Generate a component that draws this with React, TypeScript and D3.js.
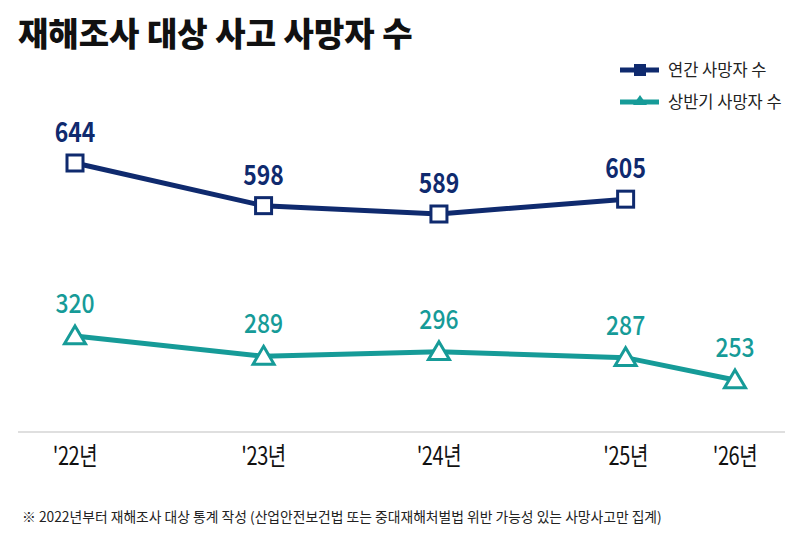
import React, { useEffect, useRef } from 'react';
import * as d3 from 'd3';

// periods on the x axis (spacing read off the picture, not even)
const periods = ["'22년", "'23년", "'24년", "'25년", "'26년"];
const periodPos = [2022, 2023, 2023.93, 2024.92, 2025.5];

const annualDeaths = [644, 598, 589, 605];
const halfDeaths = [320, 289, 296, 287, 253];

const title = '재해조사 대상 사고 사망자 수';
const legendLabels = ['연간 사망자 수', '상반기 사망자 수'];
const footnote = '※ 2022년부터 재해조사 대상 통계 작성 (산업안전보건법 또는 중대재해처벌법 위반 가능성 있는 사망사고만 집계)';

const NAVY = '#0f2a6e';
const TEAL = '#169b98';
const FONT = "'Noto Sans CJK KR', 'Noto Sans', sans-serif";

const App: React.FC = () => {
  const svgRef = useRef<SVGSVGElement>(null);

  useEffect(() => {
    const svg = d3.select(svgRef.current);
    svg.selectAll('*').remove();

    const width = 800;
    const height = 551;

    const x = d3.scaleLinear().domain([2022, 2025.5]).range([75, 735]);
    const yAnnual = d3.scaleLinear().domain([644, 589]).range([163, 214]);
    const yHalf = d3.scaleLinear().domain([320, 253]).range([336, 380]);

    svg.append('rect').attr('width', width).attr('height', height).attr('fill', '#fff');

    // Title
    svg.append('text')
      .attr('x', 18).attr('y', 46)
      .attr('font-family', FONT).attr('font-weight', 900)
      .attr('font-size', 33).attr('fill', '#111')
      .text(title);

    // Baseline
    svg.append('line')
      .attr('x1', 18).attr('x2', 785)
      .attr('y1', 432).attr('y2', 432)
      .attr('stroke', '#d4d4d4').attr('stroke-width', 1.5);

    // X labels (condensed look)
    svg.append('g')
      .selectAll('text')
      .data(periods)
      .join('text')
      .attr('transform', (_, i) => `translate(${x(periodPos[i])},465) scale(0.8,1)`)
      .attr('text-anchor', 'middle')
      .attr('font-family', FONT)
      .attr('font-size', 25).attr('font-weight', 400)
      .attr('letter-spacing', -0.5)
      .attr('fill', '#111')
      .text(d => d);

    const triangle = (cx: number, cy: number, s = 10) =>
      `M${cx},${cy - s} L${cx + s * 1.05},${cy + s * 0.78} L${cx - s * 1.05},${cy + s * 0.78} Z`;

    // Annual series
    const lineA = d3.line<number>()
      .x((_, i) => x(periodPos[i]))
      .y(d => yAnnual(d));
    svg.append('path')
      .datum(annualDeaths)
      .attr('d', lineA)
      .attr('fill', 'none')
      .attr('stroke', NAVY)
      .attr('stroke-width', 5);

    svg.append('g')
      .selectAll('rect')
      .data(annualDeaths)
      .join('rect')
      .attr('x', (_, i) => x(periodPos[i]) - 8)
      .attr('y', d => yAnnual(d) - 8)
      .attr('width', 16).attr('height', 16)
      .attr('fill', '#fff').attr('stroke', NAVY).attr('stroke-width', 3);

    svg.append('g')
      .selectAll('text')
      .data(annualDeaths)
      .join('text')
      .attr('transform', (d, i) => `translate(${x(periodPos[i])},${yAnnual(d) - 21}) scale(0.85,1)`)
      .attr('text-anchor', 'middle')
      .attr('font-family', FONT).attr('font-weight', 700)
      .attr('font-size', 27).attr('fill', NAVY)
      .text(d => d);

    // Half-year series
    const lineH = d3.line<number>()
      .x((_, i) => x(periodPos[i]))
      .y(d => yHalf(d));
    svg.append('path')
      .datum(halfDeaths)
      .attr('d', lineH)
      .attr('fill', 'none')
      .attr('stroke', TEAL)
      .attr('stroke-width', 5);

    svg.append('g')
      .selectAll('path')
      .data(halfDeaths)
      .join('path')
      .attr('d', (d, i) => triangle(x(periodPos[i]), yHalf(d)))
      .attr('fill', '#fff').attr('stroke', TEAL).attr('stroke-width', 3)
      .attr('stroke-linejoin', 'miter');

    svg.append('g')
      .selectAll('text')
      .data(halfDeaths)
      .join('text')
      .attr('transform', (d, i) => `translate(${x(periodPos[i])},${yHalf(d) - 23}) scale(0.85,1)`)
      .attr('text-anchor', 'middle')
      .attr('font-family', FONT).attr('font-weight', 500)
      .attr('font-size', 27).attr('fill', TEAL)
      .text(d => d);

    // Legend
    const legend = svg.append('g');
    legendLabels.forEach((label, i) => {
      const ly = 70 + i * 32;
      const color = i === 0 ? NAVY : TEAL;
      legend.append('line')
        .attr('x1', 620).attr('x2', 659).attr('y1', ly).attr('y2', ly)
        .attr('stroke', color).attr('stroke-width', 5);
      if (i === 0) {
        legend.append('rect')
          .attr('x', 634).attr('y', ly - 6).attr('width', 12).attr('height', 12)
          .attr('fill', color);
      } else {
        legend.append('path')
          .attr('d', `M640,${ly - 7} L647,${ly + 3} L633,${ly + 3} Z`)
          .attr('fill', color);
      }
      legend.append('text')
        .attr('x', 668).attr('y', ly + 6)
        .attr('font-family', FONT).attr('font-size', 16.5)
        .attr('fill', '#222')
        .text(label);
    });

    // Footnote
    svg.append('text')
      .attr('x', 22).attr('y', 522)
      .attr('font-family', FONT).attr('font-size', 13.8)
      .attr('fill', '#222')
      .text(footnote);
  }, []);

  return <svg ref={svgRef} width={800} height={551} style={{ display: 'block', position: 'absolute', left: 0, top: 0 }} />;
};

export default App;
